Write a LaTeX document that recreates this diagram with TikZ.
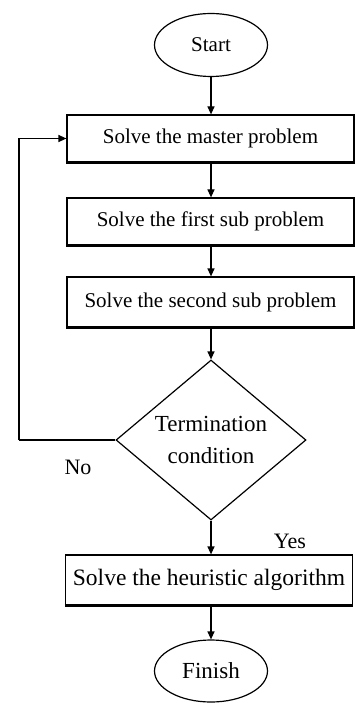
\documentclass[tikz,border=0pt]{standalone}
\usepackage{fontspec}
\setmainfont{Liberation Serif}
\usetikzlibrary{shapes.geometric,arrows.meta,calc}

\begin{document}
\begin{tikzpicture}[x=1pt,y=-1pt,
    every node/.style={font=\fontsize{21}{25}\selectfont},
    stepbox/.style={draw,line width=1.2pt,rectangle,minimum width=287pt,minimum height=47pt,inner sep=0pt},
    endpoint/.style={draw,line width=1.2pt,ellipse,minimum width=113pt,minimum height=63pt,inner sep=0pt},
    test/.style={draw,line width=1.2pt,diamond,aspect=1.19,minimum width=190pt,minimum height=160pt,inner sep=0pt,align=center,font=\fontsize{23}{32}\selectfont},
    arr/.style={line width=1.2pt,-{Triangle[width=7pt,length=8pt]}}]
    \useasboundingbox (0,0) rectangle (355,703);

    % Start and the three sub steps
    \node[endpoint] (start) at (211,45) {Start};
    \node[stepbox] (master) at (210.5,138.5) {Solve the master problem};
    \node[stepbox] (first) at (210.5,221.5) {Solve the first sub problem};
    \node[stepbox,minimum height=50pt] (second) at (210.5,302) {Solve the second sub problem};

    % Test and the end
    \node[test] (term) at (211,440) {Termination\\condition};
    \node[stepbox,minimum height=50pt,font=\fontsize{23.5}{28}\selectfont] (heur) at (209,580) {Solve the heuristic algorithm};
    \node[endpoint,minimum height=62pt,font=\fontsize{23}{27}\selectfont] (finish) at (211,671) {Finish};
    \node[font=\fontsize{22}{26}\selectfont] (no) at (78,467) {No};
    \node[font=\fontsize{22}{26}\selectfont] (yes) at (290,541) {Yes};

    % heavy bottom edges
    \foreach \b in {master,first,second,heur}
        \draw[line width=2.4pt] (\b.south west) -- (\b.south east);

    % Arrows
    \draw[arr] (start.south) -- (start.south |- master.north);
    \draw[arr] (start.south |- master.south) -- (start.south |- first.north);
    \draw[arr] (start.south |- first.south) -- (start.south |- second.north);
    \draw[arr] (start.south |- second.south) -- (term.north);
    \draw[arr] (term.south) -- (term.south |- heur.north);
    \draw[arr] (term.south |- heur.south) -- (finish.north);

    % Back to the master problem
    \coordinate (back) at (19,440);
    \draw[line width=1.2pt] (term.west) -- (back);
    \draw[arr] (back) |- (master.west);
\end{tikzpicture}
\end{document}
